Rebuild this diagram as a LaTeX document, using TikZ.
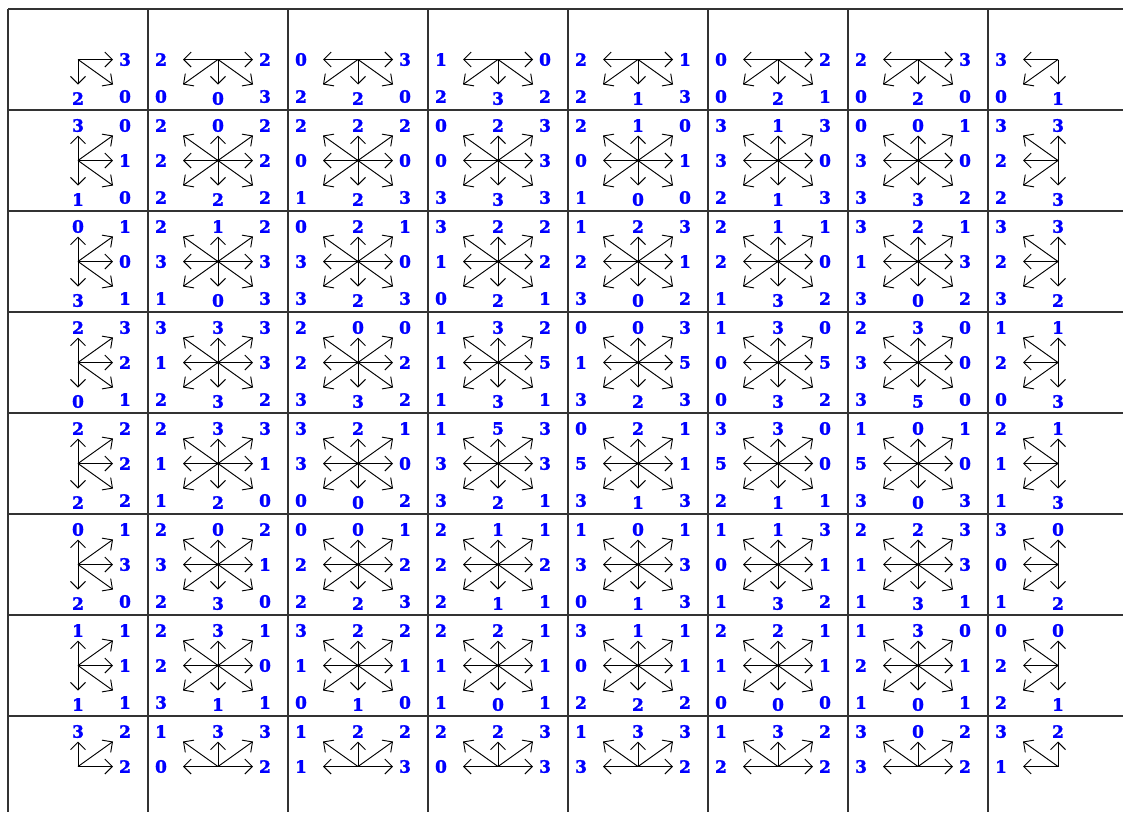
\documentclass[tikz,border=0pt]{standalone}
\usepackage{fontspec}
\setmainfont{DejaVu Serif}
\newfontfamily\labfont{DejaVu Serif}[BoldFeatures={FakeBold=1.6}]
\usetikzlibrary{arrows.meta,calc}
\tikzset{
  gridline/.style={line width=1.4pt, draw=black!80},
  arr/.style={line width=0.95pt, draw=black, -{Straight Barb[length=7.5pt,width=15pt,line width=0.95pt]}},
  lab/.style={text={rgb,255:red,0;green,0;blue,255}, font=\labfont\fontsize{17}{18}\selectfont\bfseries, inner sep=0pt, anchor=center},
  hub/.style={fill=black}
}
\newcommand\dirarrow[7]{%
  \if-#7\else
    \coordinate (t#1#2) at ($(c#1)+(#3,#4)$);
    \draw[arr] (c#1) -- (t#1#2);
    \node[lab] (l#1#2) at ($(c#1)+(#5,#6)$) {#7};
  \fi}
\begin{document}
\begin{tikzpicture}[x=1pt,y=-1pt]
\useasboundingbox (0,0) rectangle (1123,812);
\fill[white] (0,0) rectangle (1123,812);
% grid
\foreach \k in {0,...,7} \draw[gridline] ({8+140*\k},9) -- ({8+140*\k},812);
\foreach \k in {0,...,7} \draw[gridline] (8,{9+101*\k}) -- (1123,{9+101*\k});
% cells: row/col/NW/N/NE/W/E/SW/S/SE
\foreach \rr/\cc/\qa/\qb/\qc/\qd/\qe/\qf/\qg/\qh in {
1/1/-/-/-/-/3/-/2/0, 1/2/-/-/-/2/2/0/0/3, 1/3/-/-/-/0/3/2/2/0, 1/4/-/-/-/1/0/2/3/2,
1/5/-/-/-/2/1/2/1/3, 1/6/-/-/-/0/2/0/2/1, 1/7/-/-/-/2/3/0/2/0, 1/8/-/-/-/3/-/0/1/-,
2/1/-/3/0/-/1/-/1/0, 2/2/2/0/2/2/2/2/2/2, 2/3/2/2/2/0/0/1/2/3, 2/4/0/2/3/0/3/3/3/3,
2/5/2/1/0/0/1/1/0/0, 2/6/3/1/3/3/0/2/1/3, 2/7/0/0/1/3/0/3/3/2, 2/8/3/3/-/2/-/2/3/-,
3/1/-/0/1/-/0/-/3/1, 3/2/2/1/2/3/3/1/0/3, 3/3/0/2/1/3/0/3/2/3, 3/4/3/2/2/1/2/0/2/1,
3/5/1/2/3/2/1/3/0/2, 3/6/2/1/1/2/0/1/3/2, 3/7/3/2/1/1/3/3/0/2, 3/8/3/3/-/2/-/3/2/-,
4/1/-/2/3/-/2/-/0/1, 4/2/3/3/3/1/3/2/3/2, 4/3/2/0/0/2/2/3/3/2, 4/4/1/3/2/1/5/1/3/1,
4/5/0/0/3/1/5/3/2/3, 4/6/1/3/0/0/5/0/3/2, 4/7/2/3/0/3/0/3/5/0, 4/8/1/1/-/2/-/0/3/-,
5/1/-/2/2/-/2/-/2/2, 5/2/2/3/3/1/1/1/2/0, 5/3/3/2/1/3/0/0/0/2, 5/4/1/5/3/3/3/3/2/1,
5/5/0/2/1/5/1/3/1/3, 5/6/3/3/0/5/0/2/1/1, 5/7/1/0/1/5/0/3/0/3, 5/8/2/1/-/1/-/1/3/-,
6/1/-/0/1/-/3/-/2/0, 6/2/2/0/2/3/1/2/3/0, 6/3/0/0/1/2/2/2/2/3, 6/4/2/1/1/2/2/2/1/1,
6/5/1/0/1/3/3/0/1/3, 6/6/1/1/3/0/1/1/3/2, 6/7/2/2/3/1/3/1/3/1, 6/8/3/0/-/0/-/1/2/-,
7/1/-/1/1/-/1/-/1/1, 7/2/2/3/1/2/0/3/1/1, 7/3/3/2/2/1/1/0/1/0, 7/4/2/2/1/1/1/1/0/1,
7/5/3/1/1/0/1/2/2/2, 7/6/2/2/1/1/1/0/0/0, 7/7/1/3/0/2/1/1/0/1, 7/8/0/0/-/2/-/2/1/-,
8/1/-/3/2/-/2/-/-/-, 8/2/1/3/3/0/2/-/-/-, 8/3/1/2/2/1/3/-/-/-, 8/4/2/2/3/0/3/-/-/-,
8/5/1/3/3/3/2/-/-/-, 8/6/1/3/2/2/2/-/-/-, 8/7/3/0/2/3/2/-/-/-, 8/8/3/2/-/1/-/-/-/-}{
  \coordinate (c\rr-\cc) at ({78+140*(\cc-1)},{59.5+101*(\rr-1)});
  \dirarrow{\rr-\cc}{NW}{-35}{-25}{-57}{-35}{\qa}
  \dirarrow{\rr-\cc}{N}{0}{-25}{0}{-35}{\qb}
  \dirarrow{\rr-\cc}{NE}{35}{-25}{47}{-35}{\qc}
  \dirarrow{\rr-\cc}{W}{-35}{0}{-57}{0}{\qd}
  \dirarrow{\rr-\cc}{E}{35}{0}{47}{0}{\qe}
  \dirarrow{\rr-\cc}{SW}{-35}{25}{-57}{37}{\qf}
  \dirarrow{\rr-\cc}{S}{0}{25}{0}{39}{\qg}
  \dirarrow{\rr-\cc}{SE}{35}{25}{47}{37}{\qh}
}
\foreach \rr in {2,...,7} \foreach \cc in {2,...,7} \fill[hub] (c\rr-\cc) circle (1.4);
\end{tikzpicture}
\end{document}
